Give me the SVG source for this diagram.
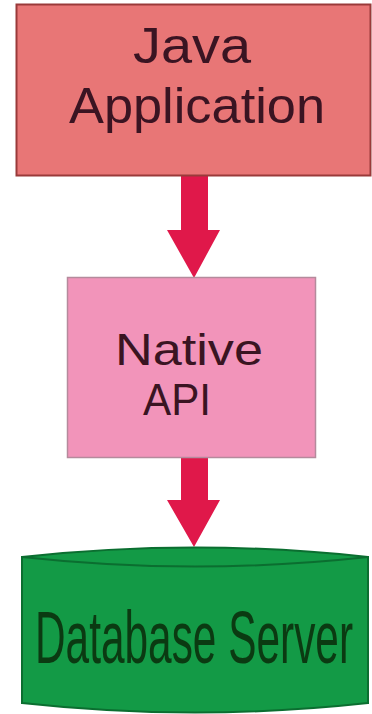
<svg xmlns="http://www.w3.org/2000/svg" width="372" height="714" viewBox="0 0 372 714">
<style>
.t{font-family:"Liberation Sans","DejaVu Sans",sans-serif;text-anchor:middle;fill:#3a1422}
.arrow{fill:#e0184a}
</style>
<rect width="372" height="714" fill="#ffffff"/>
<g id="connectors">
<path class="arrow" d="M181,176 H208 V230 H220 L194,278 L167,230 H181 Z"/>
<path class="arrow" d="M181,458 H208 V500 H220 L194,547 L167,500 H181 Z"/>
</g>
<g id="java-application">
<rect x="16.5" y="4.5" width="354" height="171" fill="#e87676" stroke="#9a3a3a" stroke-width="2"/>
<text class="t" x="192" y="63" font-size="50" textLength="118" lengthAdjust="spacingAndGlyphs">Java</text>
<text class="t" x="197" y="123" font-size="50" textLength="256" lengthAdjust="spacingAndGlyphs">Application</text>
</g>
<g id="native-api">
<rect x="67.5" y="277.5" width="248" height="180" fill="#f294ba" stroke="#b58a9c" stroke-width="1.5"/>
<text class="t" x="189" y="365" font-size="44" textLength="148" lengthAdjust="spacingAndGlyphs">Native</text>
<text class="t" x="177" y="415" font-size="44" textLength="68" lengthAdjust="spacingAndGlyphs">API</text>
</g>
<g id="database-server">
<path d="M22,557 Q195,538 368,557 V703 Q195,722 22,703 Z" fill="#139a46" stroke="#0b6e30" stroke-width="2"/>
<path d="M22,557 Q195,576 368,557" fill="none" stroke="#0b6e30" stroke-width="2"/>
<text transform="translate(194,663) scale(1,1.75)" x="0" y="0" font-family="'Liberation Sans','DejaVu Sans',sans-serif" font-size="42" text-anchor="middle" fill="#0b3a12" textLength="318" lengthAdjust="spacingAndGlyphs">Database Server</text>
</g>
</svg>
